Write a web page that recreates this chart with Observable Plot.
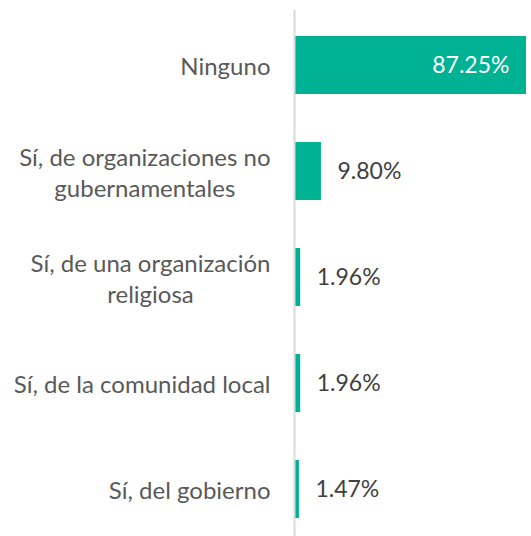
<!DOCTYPE html>
<html>
<head>
<meta charset="utf-8">
<script src="https://cdn.jsdelivr.net/npm/d3@7"></script>
<script src="https://cdn.jsdelivr.net/npm/@observablehq/plot@0.6"></script>
<style>
  html, body { margin: 0; padding: 0; background: #fff; }
  svg { display: block; }
</style>
</head>
<body>
<div id="chart"></div>
<script>
const categories = [
  "Ninguno",
  "Sí, de organizaciones no\ngubernamentales",
  "Sí, de una organización\nreligiosa",
  "Sí, de la comunidad local",
  "Sí, del gobierno"
];
const values = [87.25, 9.80, 1.96, 1.96, 1.47];
const valueLabels = ["87.25%", "9.80%", "1.96%", "1.96%", "1.47%"];

const data = categories.map((c, i) => ({cat: c, value: values[i], label: valueLabels[i], inside: i === 0}));

const chart = Plot.plot({
  width: 531,
  height: 536,
  marginLeft: 295,
  marginRight: 5,
  marginTop: 35,
  marginBottom: 17,
  style: {fontFamily: "Lato, sans-serif", background: "#fff"},
  x: {domain: [0, 87.25], axis: null},
  y: {domain: categories, paddingInner: 0.455, paddingOuter: 0, axis: null},
  marks: [
    Plot.barX(data, {x: "value", y: "cat", fill: "#00b294"}),
    Plot.ruleX([0], {stroke: "#d9d9d9", strokeWidth: 2, dx: -1, insetTop: -25, insetBottom: -17}),
    Plot.text(data, {x: 0, y: "cat", text: "cat", textAnchor: "end", dx: -25, fontSize: 24, fill: "#595959", lineHeight: 1.3, className: "cat-label"}),
    Plot.text(data.filter(d => !d.inside), {x: "value", y: "cat", text: "label", textAnchor: "start", dx: 16, fontSize: 23, fill: "#404040"}),
    Plot.text(data.filter(d => d.inside), {x: "value", y: "cat", text: "label", textAnchor: "end", dx: -17, fontSize: 23, fill: "#ffffff"})
  ]
});
document.getElementById("chart").appendChild(chart);

// center multi-line category labels as blocks that end at the anchor
chart.querySelectorAll(".cat-label text").forEach(t => {
  const spans = t.querySelectorAll("tspan");
  if (spans.length < 2) return;
  let w = 0;
  spans.forEach(s => { w = Math.max(w, s.getComputedTextLength()); });
  t.setAttribute("text-anchor", "middle");
  const tr = t.getAttribute("transform") || "";
  t.setAttribute("transform", tr + ` translate(${-w / 2},0)`);
});
</script>
</body>
</html>
